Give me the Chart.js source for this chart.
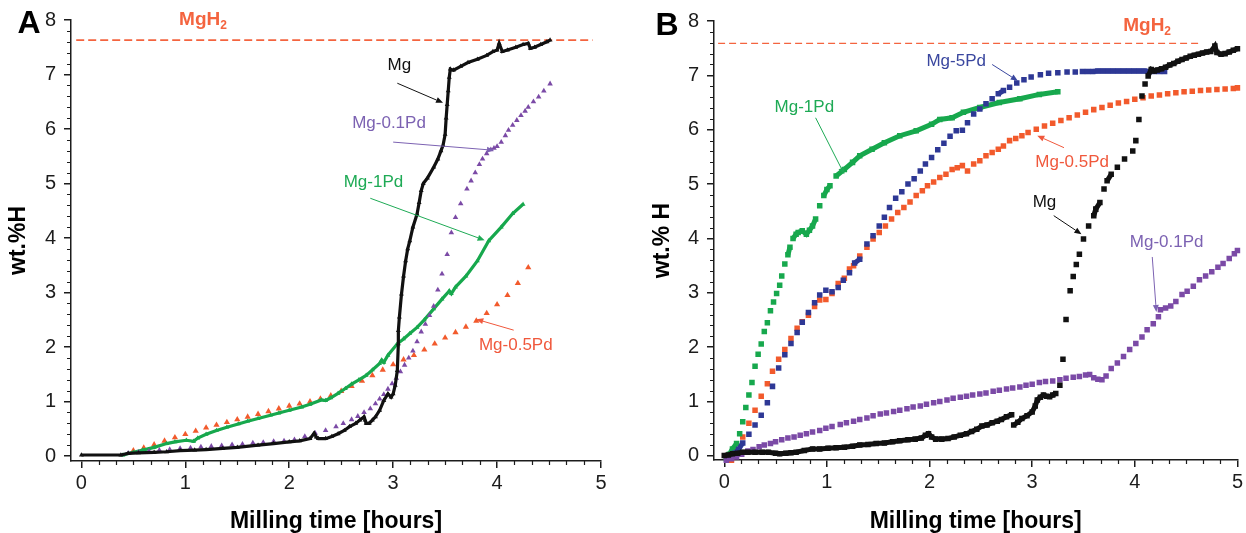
<!DOCTYPE html>
<html>
<head>
<meta charset="utf-8">
<script src="https://cdn.jsdelivr.net/npm/chart.js@4.4.0/dist/chart.umd.min.js"></script>
<style>
  html, body { margin: 0; padding: 0; background: #fff; }
  #wrap { position: relative; width: 1246px; height: 533px; overflow: hidden; }
  .panel { position: absolute; top: 0; width: 623px; height: 533px; }
  #panelA { left: 0; }
  #panelB { left: 623px; }
</style>
</head>
<body>
<div id="wrap">
  <div class="panel" id="panelA"><canvas id="chartA" width="623" height="533"></canvas></div>
  <div class="panel" id="panelB"><canvas id="chartB" width="623" height="533"></canvas></div>
</div>
<script>
/* Milling time vs wt.% H — two panels (A: triangles, B: squares) */

const X_TICKS = [0, 1, 2, 3, 4, 5];
const Y_TICKS = [0, 1, 2, 3, 4, 5, 6, 7, 8];
const X_MINOR = 6;   // 10 min
const Y_MINOR = 5;   // 0.2 wt.%

// ---- panel A ----
const A_MGH2_T = [-0.05, 4.92];
const A_MGH2_H = [7.63, 7.63];

const A_MG_T = [0, 0.38, 0.45, 0.55, 0.7, 0.82, 0.95, 1.09, 1.2, 1.36,
  1.5, 1.7, 1.85, 2.0, 2.1, 2.2, 2.24, 2.26, 2.28, 2.35,
  2.41, 2.47, 2.53, 2.58, 2.64, 2.68, 2.72, 2.73, 2.74, 2.77,
  2.8, 2.83, 2.87, 2.91, 2.95, 2.98, 3.0, 3.02, 3.04, 3.05,
  3.05, 3.06, 3.08, 3.1, 3.12, 3.14, 3.16, 3.19, 3.23, 3.25,
  3.27, 3.29, 3.33, 3.39, 3.43, 3.46, 3.48, 3.5, 3.51, 3.52,
  3.53, 3.54, 3.55, 3.58, 3.65, 3.72, 3.81, 3.9, 3.96, 4.0,
  4.02, 4.05, 4.1, 4.18, 4.25, 4.3, 4.32, 4.36, 4.42, 4.48, 4.51];
const A_MG_H = [0.02, 0.02, 0.05, 0.06, 0.07, 0.08, 0.1, 0.11, 0.12, 0.14,
  0.16, 0.2, 0.23, 0.26, 0.28, 0.32, 0.42, 0.35, 0.32, 0.32,
  0.36, 0.41, 0.47, 0.54, 0.6, 0.66, 0.72, 0.66, 0.6, 0.6,
  0.66, 0.72, 0.84, 1.02, 1.14, 1.08, 1.14, 1.3, 1.57, 2.06,
  2.3, 2.55, 2.97, 3.3, 3.58, 3.8, 3.95, 4.2, 4.44, 4.65,
  4.87, 5.0, 5.1, 5.3, 5.45, 5.6, 5.7, 5.9, 6.2, 6.45,
  6.7, 6.95, 7.1, 7.08, 7.15, 7.22, 7.28, 7.35, 7.42, 7.45,
  7.57, 7.42, 7.45, 7.5, 7.55, 7.57, 7.48, 7.5, 7.55, 7.6, 7.63];

const A_PD01_T = [0.45, 0.55, 0.65, 0.75, 0.85, 0.95, 1.05, 1.15, 1.25, 1.35,
  1.45, 1.55, 1.65, 1.75, 1.85, 1.95, 2.05, 2.15, 2.25, 2.35,
  2.45, 2.52, 2.6, 2.66, 2.72, 2.78, 2.83, 2.87, 2.91, 2.95,
  2.99, 3.03, 3.07, 3.11, 3.15, 3.19, 3.23, 3.27, 3.31, 3.35,
  3.39, 3.43, 3.47, 3.52, 3.56, 3.6, 3.65, 3.71, 3.75, 3.79,
  3.83, 3.86, 3.9, 3.94, 3.97, 4.0, 4.04, 4.08, 4.11, 4.15,
  4.19, 4.23, 4.27, 4.3, 4.35, 4.4, 4.45, 4.51];
const A_PD01_H = [0.05, 0.07, 0.09, 0.11, 0.12, 0.14, 0.15, 0.17, 0.18, 0.19,
  0.21, 0.22, 0.24, 0.25, 0.27, 0.28, 0.3, 0.36, 0.42, 0.47,
  0.54, 0.6, 0.67, 0.73, 0.8, 0.87, 0.96, 1.05, 1.13, 1.23,
  1.33, 1.43, 1.55, 1.67, 1.8, 1.93, 2.1, 2.28, 2.42, 2.58,
  2.75, 3.05, 3.34, 3.7, 4.1, 4.38, 4.63, 4.9, 5.05, 5.2,
  5.35, 5.45, 5.55, 5.62, 5.65, 5.68, 5.76, 5.88, 5.98, 6.07,
  6.16, 6.25, 6.33, 6.4, 6.5, 6.59, 6.7, 6.83];

const A_PD05_T = [0.5, 0.6, 0.7, 0.8, 0.9, 1.0, 1.1, 1.2, 1.3, 1.4,
  1.5, 1.6, 1.7, 1.8, 1.9, 2.0, 2.1, 2.2, 2.3, 2.4,
  2.5, 2.6, 2.7, 2.8, 2.9, 3.0, 3.1, 3.2, 3.3, 3.4,
  3.5, 3.6, 3.7, 3.8, 3.9, 4.0, 4.1, 4.2, 4.3];
const A_PD05_H = [0.1, 0.15, 0.21, 0.28, 0.34, 0.4, 0.46, 0.52, 0.57, 0.62,
  0.67, 0.72, 0.77, 0.82, 0.87, 0.92, 0.96, 1.0, 1.05, 1.11,
  1.19, 1.28, 1.38, 1.48, 1.58, 1.68, 1.77, 1.85, 1.95, 2.06,
  2.17, 2.27, 2.37, 2.48, 2.62, 2.78, 2.95, 3.17, 3.46];

const A_PD1_T = [0.4, 0.5, 0.59, 0.7, 0.82, 0.9, 1.01, 1.08, 1.12, 1.2,
  1.3, 1.4, 1.51, 1.6, 1.7, 1.82, 1.9, 2.0, 2.12, 2.2,
  2.31, 2.35, 2.4, 2.47, 2.54, 2.6, 2.67, 2.74, 2.8, 2.87,
  2.89, 2.91, 2.95, 3.04, 3.1, 3.16, 3.23, 3.3, 3.39, 3.47,
  3.54, 3.56, 3.6, 3.7, 3.81, 3.92, 4.04, 4.15, 4.25];
const A_PD1_H = [0.02, 0.07, 0.11, 0.16, 0.23, 0.26, 0.29, 0.27, 0.33, 0.4,
  0.47, 0.53, 0.59, 0.64, 0.69, 0.75, 0.79, 0.84, 0.9, 0.95,
  1.03, 1.02, 1.07, 1.15, 1.24, 1.32, 1.4, 1.48, 1.58, 1.7,
  1.76, 1.72, 1.85, 2.06, 2.15, 2.25, 2.36, 2.5, 2.7, 2.88,
  3.03, 2.98, 3.1, 3.3, 3.58, 3.95, 4.2, 4.45, 4.62];

// ---- panel B ----
const B_MGH2_T = [-0.06, 4.62];
const B_MGH2_H = [7.59, 7.59];

const B_MG_T = [0, 0.04, 0.08, 0.13, 0.18, 0.23, 0.3, 0.37, 0.43, 0.5,
  0.54, 0.6, 0.65, 0.7, 0.78, 0.86, 0.93, 1.01, 1.09, 1.17,
  1.25, 1.32, 1.4, 1.48, 1.56, 1.64, 1.71, 1.79, 1.86, 1.92,
  1.96, 1.99, 2.02, 2.06, 2.12, 2.18, 2.24, 2.3, 2.36, 2.41,
  2.46, 2.51, 2.56, 2.61, 2.66, 2.7, 2.75, 2.8, 2.82, 2.86,
  2.9, 2.95, 3.0, 3.03, 3.05, 3.08, 3.11, 3.14, 3.17, 3.2,
  3.23, 3.27, 3.3, 3.33, 3.37, 3.4, 3.43, 3.46, 3.5, 3.55,
  3.6, 3.62, 3.66, 3.7, 3.73, 3.77, 3.83, 3.9, 3.98, 4.01,
  4.04, 4.07, 4.1, 4.13, 4.16, 4.19, 4.22, 4.26, 4.3, 4.34,
  4.38, 4.42, 4.46, 4.5, 4.54, 4.58, 4.62, 4.66, 4.7, 4.74,
  4.78, 4.8, 4.84, 4.88, 4.92, 4.96, 5.0];
const B_MG_H = [0.01, 0.02, 0.04, 0.05, 0.07, 0.07, 0.07, 0.07, 0.07, 0.05,
  0.04, 0.05, 0.06, 0.07, 0.1, 0.13, 0.13, 0.14, 0.15, 0.16,
  0.18, 0.2, 0.21, 0.23, 0.24, 0.26, 0.28, 0.3, 0.31, 0.33,
  0.38, 0.41, 0.35, 0.31, 0.31, 0.32, 0.35, 0.38, 0.41, 0.45,
  0.49, 0.55, 0.57, 0.61, 0.64, 0.67, 0.72, 0.76, 0.57, 0.62,
  0.69, 0.74, 0.81, 0.92, 1.03, 1.08, 1.12, 1.1, 1.09, 1.12,
  1.15, 1.3, 1.78, 2.51, 3.04, 3.3, 3.52, 3.71, 3.99, 4.23,
  4.42, 4.54, 4.66, 4.91, 5.06, 5.18, 5.31, 5.46, 5.61, 5.8,
  6.19, 6.62, 6.84, 6.99, 7.11, 7.08, 7.1, 7.12, 7.15, 7.19,
  7.22, 7.26, 7.29, 7.32, 7.35, 7.37, 7.39, 7.41, 7.43, 7.44,
  7.54, 7.42, 7.39, 7.4, 7.43, 7.46, 7.49];

const B_PD01_T = [0.02, 0.07, 0.12, 0.17, 0.23, 0.28, 0.34, 0.39, 0.45, 0.5,
  0.56, 0.62, 0.68, 0.74, 0.8, 0.86, 0.93, 0.99, 1.05, 1.13,
  1.19, 1.26, 1.32, 1.39, 1.45, 1.52, 1.58, 1.65, 1.71, 1.78,
  1.84, 1.91, 1.97, 2.04, 2.1, 2.17, 2.23, 2.3, 2.36, 2.42,
  2.49, 2.55, 2.62, 2.68, 2.75, 2.81, 2.88, 2.94, 3.0, 3.07,
  3.13, 3.2, 3.27, 3.33, 3.4, 3.46, 3.52, 3.56, 3.6, 3.64,
  3.68, 3.72, 3.77, 3.83, 3.89, 3.95, 4.01, 4.07, 4.12, 4.18,
  4.23, 4.25, 4.3, 4.35, 4.4, 4.46, 4.51, 4.57, 4.63, 4.69,
  4.75, 4.81, 4.86, 4.92, 4.97, 5.0];
const B_PD01_H = [-0.08, -0.05, -0.02, 0.03, 0.09, 0.12, 0.17, 0.2, 0.23, 0.26,
  0.3, 0.33, 0.35, 0.38, 0.41, 0.44, 0.47, 0.51, 0.54, 0.58,
  0.61, 0.64, 0.67, 0.7, 0.74, 0.77, 0.79, 0.82, 0.84, 0.87,
  0.9, 0.92, 0.95, 0.98, 1.0, 1.03, 1.06, 1.08, 1.1, 1.12,
  1.14, 1.16, 1.19, 1.21, 1.23, 1.25, 1.27, 1.3, 1.32, 1.35,
  1.37, 1.38, 1.4, 1.43, 1.45, 1.46, 1.49, 1.5, 1.44, 1.41,
  1.4, 1.47, 1.61, 1.71, 1.83, 1.96, 2.07, 2.19, 2.32, 2.43,
  2.56, 2.69, 2.72, 2.76, 2.84, 2.97, 3.03, 3.12, 3.24, 3.31,
  3.39, 3.47, 3.54, 3.63, 3.72, 3.78];

const B_PD05_T = [0.07, 0.12, 0.18, 0.24, 0.3, 0.36, 0.42, 0.47, 0.53, 0.59,
  0.65, 0.71, 0.76, 0.82, 0.88, 0.93, 0.99, 1.05, 1.11, 1.17,
  1.22, 1.26, 1.32, 1.39, 1.45, 1.51, 1.57, 1.63, 1.69, 1.75,
  1.81, 1.87, 1.93, 1.98, 2.04, 2.1, 2.16, 2.22, 2.27, 2.32,
  2.37, 2.43, 2.49, 2.55, 2.61, 2.67, 2.72, 2.78, 2.84, 2.9,
  2.96, 3.04, 3.12, 3.2, 3.28, 3.36, 3.44, 3.52, 3.6, 3.68,
  3.76, 3.84, 3.92, 4.0, 4.08, 4.16, 4.24, 4.32, 4.4, 4.48,
  4.56, 4.64, 4.72, 4.8, 4.88, 4.96, 5.0];
const B_PD05_H = [-0.08, 0.12, 0.35, 0.6, 0.84, 1.1, 1.33, 1.56, 1.78, 1.96,
  2.16, 2.35, 2.47, 2.59, 2.75, 2.87, 2.88, 2.99, 3.17, 3.27,
  3.44, 3.5, 3.68, 3.84, 3.99, 4.11, 4.23, 4.36, 4.48, 4.57,
  4.67, 4.79, 4.88, 4.97, 5.04, 5.12, 5.18, 5.27, 5.3, 5.34,
  5.24, 5.37, 5.43, 5.52, 5.58, 5.64, 5.7, 5.8, 5.84, 5.89,
  5.95, 6.01, 6.07, 6.12, 6.17, 6.22, 6.27, 6.32, 6.37, 6.41,
  6.45, 6.49, 6.52, 6.56, 6.59, 6.62, 6.64, 6.66, 6.68, 6.7,
  6.71, 6.72, 6.73, 6.74, 6.75, 6.76, 6.77];

const B_PD1_T = [0.02, 0.05, 0.08, 0.12, 0.15, 0.18, 0.21, 0.24, 0.27, 0.3,
  0.33, 0.36, 0.39, 0.42, 0.45, 0.48, 0.51, 0.54, 0.56, 0.59,
  0.62, 0.64, 0.67, 0.7, 0.72, 0.76, 0.8, 0.83, 0.86, 0.89,
  0.93, 0.97, 1.0, 1.03, 1.09, 1.17, 1.25, 1.32, 1.44, 1.56,
  1.71, 1.87, 2.02, 2.1, 2.22, 2.33, 2.49, 2.68, 2.88, 3.07, 3.25];
const B_PD1_H = [-0.05, 0.03, 0.13, 0.23, 0.41, 0.63, 0.89, 1.12, 1.35, 1.65,
  1.87, 2.06, 2.29, 2.45, 2.67, 2.83, 2.99, 3.14, 3.31, 3.53,
  3.7, 3.84, 4.0, 4.08, 4.11, 4.14, 4.08, 4.15, 4.23, 4.36,
  4.6, 4.79, 4.9, 4.97, 5.15, 5.27, 5.4, 5.52, 5.64, 5.76,
  5.89, 5.98, 6.1, 6.19, 6.22, 6.32, 6.41, 6.5, 6.57, 6.65, 6.7];

const B_PD5_T = [0.04, 0.1, 0.14, 0.18, 0.24, 0.3, 0.36, 0.42, 0.47, 0.53,
  0.59, 0.65, 0.71, 0.76, 0.82, 0.88, 0.93, 0.99, 1.05, 1.11,
  1.16, 1.22, 1.27, 1.32, 1.39, 1.45, 1.51, 1.56, 1.61, 1.67,
  1.73, 1.79, 1.85, 1.91, 1.96, 2.02, 2.08, 2.14, 2.2, 2.26,
  2.32, 2.37, 2.43, 2.49, 2.55, 2.61, 2.67, 2.72, 2.78, 2.85,
  2.92, 2.99, 3.08, 3.16, 3.25, 3.34, 3.42, 3.49, 3.54, 3.59,
  3.64, 3.69, 3.74, 3.79, 3.84, 3.89, 3.94, 3.99, 4.04, 4.09,
  4.14, 4.19, 4.24, 4.29];
const B_PD5_H = [-0.02, 0.05, 0.12, 0.24, 0.4, 0.57, 0.75, 0.98, 1.28, 1.62,
  1.86, 2.07, 2.27, 2.46, 2.64, 2.82, 2.96, 3.05, 3.02, 3.1,
  3.23, 3.37, 3.55, 3.62, 3.9, 4.05, 4.23, 4.39, 4.57, 4.74,
  4.86, 5.0, 5.1, 5.24, 5.37, 5.49, 5.63, 5.75, 5.88, 5.98,
  5.99, 6.13, 6.29, 6.38, 6.48, 6.57, 6.66, 6.72, 6.78, 6.86,
  6.92, 6.97, 7.01, 7.04, 7.05, 7.06, 7.06, 7.07, 7.07, 7.07,
  7.08, 7.08, 7.08, 7.08, 7.08, 7.08, 7.08, 7.08, 7.08, 7.08,
  7.07, 7.07, 7.07, 7.07];

// labels and arrows, in data units
const A_NOTES = [
  { text: 'Mg', color: '#111111', at: [3.06, 7.17], from: [3.04, 6.84], to: [3.48, 6.48] },
  { text: 'Mg-0.1Pd', color: '#7c62b2', at: [2.96, 6.11], from: [3.0, 5.76], to: [3.97, 5.61] },
  { text: 'Mg-1Pd', color: '#1eaa55', at: [2.81, 5.03], from: [2.78, 4.73], to: [3.88, 3.96] },
  { text: 'Mg-0.5Pd', color: '#f0583c', at: [4.18, 2.04], from: [4.16, 2.31], to: [3.8, 2.51] },
];
const B_NOTES = [
  { text: 'Mg-5Pd', color: '#3a479f', at: [2.26, 7.25], from: [2.61, 7.2], to: [2.86, 6.9] },
  { text: 'Mg-1Pd', color: '#1eaa55', at: [0.78, 6.41], from: [0.89, 6.22], to: [1.17, 5.18] },
  { text: 'Mg-0.5Pd', color: '#f0583c', at: [3.39, 5.4], from: [3.31, 5.67], to: [3.05, 5.89] },
  { text: 'Mg', color: '#111111', at: [3.12, 4.67], from: [3.21, 4.42], to: [3.48, 4.08] },
  { text: 'Mg-0.1Pd', color: '#7c62b2', at: [4.31, 3.93], from: [4.17, 3.66], to: [4.21, 2.65] },
];
const A_MGH2_LABEL = [1.17, 8.0];
const B_MGH2_LABEL = [4.12, 7.91];

const FONT = '"Liberation Sans", Arial, Helvetica, sans-serif';
const AXIS = '#1c1c1c';
const C_BLACK = '#111111';
const C_PURPLE = '#7b4aa6';
const C_GREEN = '#17a84d';
const C_RED = '#f25a2c';
const C_BLUE = '#2e3895';
const C_DASH = '#f4643f';

const pts = (t, h) => t.map((x, i) => ({ x, y: h[i] }));

// join two neighbour squares with a band only when they sit close together
function joinSeg(color, maxDx, maxDy) {
  return {
    borderColor: (ctx) =>
      Math.abs(ctx.p1.x - ctx.p0.x) <= maxDx && Math.abs(ctx.p1.y - ctx.p0.y) <= maxDy ? color : 'rgba(0,0,0,0)',
  };
}

function dashLine(t, h, width, dash) {
  return {
    data: pts(t, h), showLine: true, borderColor: C_DASH, borderWidth: width,
    borderDash: dash, pointRadius: 0, order: 10,
  };
}

function drawArrow(ctx, x0, y0, x1, y1, color) {
  const a = Math.atan2(y1 - y0, x1 - x0);
  const L = 7, W = 3;
  ctx.strokeStyle = color;
  ctx.fillStyle = color;
  ctx.lineWidth = 1;
  ctx.beginPath();
  ctx.moveTo(x0, y0);
  ctx.lineTo(x1 - L * Math.cos(a), y1 - L * Math.sin(a));
  ctx.stroke();
  ctx.beginPath();
  ctx.moveTo(x1, y1);
  ctx.lineTo(x1 - L * Math.cos(a) + W * Math.sin(a), y1 - L * Math.sin(a) - W * Math.cos(a));
  ctx.lineTo(x1 - L * Math.cos(a) - W * Math.sin(a), y1 - L * Math.sin(a) + W * Math.cos(a));
  ctx.closePath();
  ctx.fill();
}

// minor ticks, panel letter, MgH2 label, arrows
function makeDecor(cfg) {
  return {
    id: 'decor',
    afterDraw(chart) {
      const { ctx, chartArea: ca, scales: { x, y } } = chart;
      ctx.save();
      ctx.strokeStyle = AXIS;
      ctx.lineWidth = 1.2;
      ctx.beginPath();
      const xMax = X_TICKS[X_TICKS.length - 1];
      for (let k = 1; k < xMax * X_MINOR; k++) {
        if (k % X_MINOR === 0) continue;
        const px = Math.round(x.getPixelForValue(k / X_MINOR)) + 0.5;
        ctx.moveTo(px, ca.bottom);
        ctx.lineTo(px, ca.bottom + 4);
      }
      const yMax = Y_TICKS[Y_TICKS.length - 1];
      for (let k = 1; k < yMax * Y_MINOR; k++) {
        if (k % Y_MINOR === 0) continue;
        const py = Math.round(y.getPixelForValue(k / Y_MINOR)) + 0.5;
        ctx.moveTo(ca.left, py);
        ctx.lineTo(ca.left - 4, py);
      }
      ctx.stroke();

      // panel letter
      ctx.fillStyle = '#000';
      ctx.font = 'bold 32px ' + FONT;
      ctx.textAlign = 'center';
      ctx.textBaseline = 'middle';
      ctx.fillText(cfg.letter, ca.left + cfg.letterDx, ca.top + cfg.letterDy);

      // MgH2
      const mx = x.getPixelForValue(cfg.mgh2[0]);
      const my = y.getPixelForValue(cfg.mgh2[1]);
      ctx.fillStyle = C_DASH;
      ctx.font = 'bold 19px ' + FONT;
      const wMain = ctx.measureText('MgH').width;
      ctx.font = 'bold 12px ' + FONT;
      const wSub = ctx.measureText('2').width;
      const x0 = mx - (wMain + wSub) / 2;
      ctx.textAlign = 'left';
      ctx.font = 'bold 19px ' + FONT;
      ctx.fillText('MgH', x0, my);
      ctx.font = 'bold 12px ' + FONT;
      ctx.fillText('2', x0 + wMain, my + 6);

      // labels + arrows
      ctx.textAlign = 'center';
      ctx.font = '17px ' + FONT;
      cfg.notes.forEach((n) => {
        ctx.fillStyle = n.color;
        ctx.fillText(n.text, x.getPixelForValue(n.at[0]), y.getPixelForValue(n.at[1]));
        drawArrow(ctx,
          x.getPixelForValue(n.from[0]), y.getPixelForValue(n.from[1]),
          x.getPixelForValue(n.to[0]), y.getPixelForValue(n.to[1]), n.color);
      });
      ctx.restore();
    },
  };
}

function scalesFor(yTitle, yWidth, xHeight, yMin) {
  const tickFont = { family: FONT, size: 20 };
  const titleFont = { family: FONT, size: 23, weight: 'bold', lineHeight: 1 };
  return {
    x: {
      type: 'linear', min: -0.1, max: 5,
      afterBuildTicks: (s) => { s.ticks = X_TICKS.map((v) => ({ value: v })); },
      afterFit: (s) => { s.height = xHeight; },
      grid: { drawOnChartArea: false, drawTicks: true, tickLength: 7, color: AXIS, lineWidth: 1.5 },
      border: { display: true, color: AXIS, width: 1.5 },
      ticks: { font: tickFont, color: AXIS, padding: 3, maxRotation: 0, autoSkip: false },
      title: { display: true, text: 'Milling time [hours]', font: titleFont, color: '#000', padding: { top: 0, bottom: 0 } },
    },
    y: {
      type: 'linear', min: yMin, max: 8,
      afterBuildTicks: (s) => { s.ticks = Y_TICKS.map((v) => ({ value: v })); },
      afterFit: (s) => { s.width = yWidth; },
      grid: { drawOnChartArea: false, drawTicks: true, tickLength: 7, color: AXIS, lineWidth: 1.5 },
      border: { display: true, color: AXIS, width: 1.5 },
      ticks: { font: tickFont, color: AXIS, padding: 8, autoSkip: false },
      title: { display: true, text: yTitle, font: titleFont, color: '#000', padding: { top: 0, bottom: 0 } },
    },
  };
}

const BASE = {
  responsive: false,
  animation: false,
  events: [],
  plugins: { legend: { display: false }, tooltip: { enabled: false } },
};

new Chart(document.getElementById('chartA'), {
  type: 'scatter',
  data: {
    datasets: [
      { label: 'Mg', data: pts(A_MG_T, A_MG_H), showLine: true, borderColor: C_BLACK, borderWidth: 3.2,
        pointStyle: 'triangle', pointRadius: 2.8, pointBackgroundColor: C_BLACK, pointBorderWidth: 0, clip: 6 },
      { label: 'Mg-0.1Pd', data: pts(A_PD01_T, A_PD01_H), pointStyle: 'triangle', pointRadius: 3.2,
        pointBackgroundColor: C_PURPLE, pointBorderWidth: 0, clip: 6 },
      { label: 'Mg-1Pd', data: pts(A_PD1_T, A_PD1_H), showLine: true, borderColor: C_GREEN, borderWidth: 3.2,
        pointStyle: 'triangle', pointRadius: 2.8, pointBackgroundColor: C_GREEN, pointBorderWidth: 0, clip: 6 },
      { label: 'Mg-0.5Pd', data: pts(A_PD05_T, A_PD05_H), pointStyle: 'triangle', pointRadius: 3.6,
        pointBackgroundColor: C_RED, pointBorderWidth: 0, clip: 6 },
      dashLine(A_MGH2_T, A_MGH2_H, 1.6, [8, 4]),
    ],
  },
  options: {
    ...BASE,
    layout: { padding: { left: 7.5, top: 20, right: 22, bottom: 0 } },
    scales: scalesFor('wt.%H', 63.5, 72, -0.09),
  },
  plugins: [makeDecor({ letter: 'A', letterDx: -42, letterDy: 4, mgh2: A_MGH2_LABEL, notes: A_NOTES })],
});

new Chart(document.getElementById('chartB'), {
  type: 'scatter',
  data: {
    datasets: [
      { label: 'Mg', data: pts(B_MG_T, B_MG_H), showLine: true, borderColor: C_BLACK, borderWidth: 5,
        segment: joinSeg(C_BLACK, 10, 7), pointStyle: 'rect', pointRadius: 3.9,
        pointBackgroundColor: C_BLACK, pointBorderWidth: 0, clip: 6 },
      { label: 'Mg-0.1Pd', data: pts(B_PD01_T, B_PD01_H), pointStyle: 'rect', pointRadius: 3.9,
        pointBackgroundColor: C_PURPLE, pointBorderWidth: 0, clip: 6 },
      { label: 'Mg-5Pd', data: pts(B_PD5_T, B_PD5_H), showLine: true, borderColor: C_BLUE, borderWidth: 5,
        segment: joinSeg(C_BLUE, 6, 7), pointStyle: 'rect', pointRadius: 3.9,
        pointBackgroundColor: C_BLUE, pointBorderWidth: 0, clip: 6 },
      { label: 'Mg-1Pd', data: pts(B_PD1_T, B_PD1_H), showLine: true, borderColor: C_GREEN, borderWidth: 5,
        segment: joinSeg(C_GREEN, 25, 8), pointStyle: 'rect', pointRadius: 3.9,
        pointBackgroundColor: C_GREEN, pointBorderWidth: 0, clip: 6 },
      { label: 'Mg-0.5Pd', data: pts(B_PD05_T, B_PD05_H), pointStyle: 'rect', pointRadius: 3.9,
        pointBackgroundColor: C_RED, pointBorderWidth: 0, clip: 6 },
      dashLine(B_MGH2_T, B_MGH2_H, 1.3, [7, 4]),
    ],
  },
  options: {
    ...BASE,
    layout: { padding: { left: 28.5, top: 21, right: 7, bottom: 0 } },
    scales: scalesFor('wt.% H', 62.5, 73, -0.074),
  },
  plugins: [makeDecor({ letter: 'B', letterDx: -47, letterDy: 5, mgh2: B_MGH2_LABEL, notes: B_NOTES })],
});
</script>
</body>
</html>
